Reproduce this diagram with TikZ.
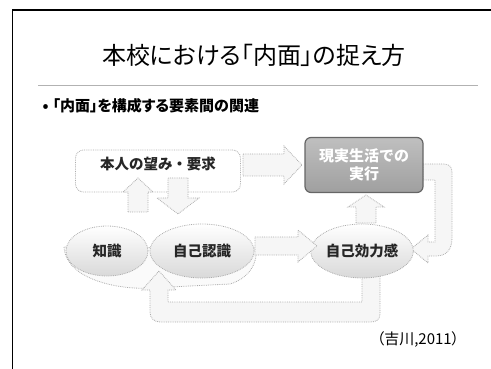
\documentclass[tikz,border=0pt]{standalone}
\usepackage{fontspec}
\setmainfont{Noto Sans CJK JP}
\newfontfamily\jpp{Noto Sans CJK JP}[RawFeature=+palt]
\usetikzlibrary{shapes.geometric}
\newcommand\barrow[6]{\draw[blk, shift={#1}, rotate=#2] (0,-#4) -- (#3-#6,-#4) -- (#3-#6,-#5) -- (#3,0) -- (#3-#6,#5) -- (#3-#6,#4) -- (0,#4) -- cycle;}
\begin{document}
\begin{tikzpicture}[x=1pt,y=-1pt,
  dots/.style={draw=gray!65, densely dotted, line width=0.8pt},
  blk/.style={dots, fill=gray!7},
  bowl/.style={ellipse, dots, top color=white, bottom color=gray!30, inner sep=0pt},
  lbl/.style={font=\bfseries\fontsize{14.5}{16}\selectfont, text=black!85},
]
\useasboundingbox (0,0) rectangle (491,369);
\draw[line width=1.6pt] (12.5,369) -- (12.5,10) -- (491,10);
\node[font=\jpp\fontsize{24}{28}\selectfont] (title) at (254,55) {本校における「内面」の捉え方};
\draw[gray!60, line width=0.8pt] (38,85) -- (478,85);
\node[anchor=west, font=\jpp\bfseries\fontsize{15}{18}\selectfont] (bullet) at (39,106) {•\hspace{4pt}「内面」を構成する要素間の関連};

% shadow under the left bowls
\draw[dots, fill=gray!4] (64,247) .. controls (66,280) and (120,290) .. (150,288) -- (230,284) .. controls (250,278) and (258,262) .. (256,248) -- cycle;

% bottom U-turn arrow
\draw[blk] (380,276) -- (380,314) .. controls (380,320) and (376,322) .. (370,322) -- (160,322) .. controls (154,322) and (150,318) .. (150,312) -- (150,290) -- (142,290) -- (159,271) -- (176,290) -- (168,290) -- (168,302) -- (362,302) -- (362,276) -- cycle;

% right loop arrow
\draw[blk] (423,164) -- (444,164) .. controls (449,164) and (452,167) .. (452,172) -- (452,238) .. controls (452,250) and (446,256) .. (436,256) -- (428,256) -- (428,263) -- (411,249) -- (428,235) -- (428,242) -- (435,242) -- (435,180) -- (423,180) -- cycle;

% bowls
\node[bowl, lbl, minimum width=82, minimum height=50] (know) at (107,251) {知識};
\node[bowl, lbl, minimum width=104, minimum height=54] (selfrec) at (202,251) {自己認識};
\node[bowl, lbl, minimum width=100, minimum height=54] (eff) at (362,251) {自己効力感};

% boxes
\node[dots, rounded corners=8, fill=white, minimum width=165, minimum height=42] (want) at (158,171) {};
\node[lbl] (wanttext) at (158,164) {本人の望み・要求};
\node[draw=gray!80!black, line width=1.2pt, rounded corners=6, top color=gray!50, bottom color=gray!75,
      minimum width=118, minimum height=55, align=center, text=white,
      font=\bfseries\fontsize{15}{18}\selectfont] (real) at (364,165) {現実生活での\\実行};

% block arrows
\barrow{(243,165)}{0}{59}{11}{19}{18}
\barrow{(138,212)}{90}{34}{10}{15}{14}
\barrow{(178,178)}{-90}{36}{10}{21}{16}
\barrow{(366,223)}{90}{28}{10}{18}{12}
\barrow{(255,246)}{0}{62}{9}{16}{19}

\node[font=\jpp\fontsize{15}{18}\selectfont] (cite) at (418,340) {（吉川,2011）};
\end{tikzpicture}
\end{document}
